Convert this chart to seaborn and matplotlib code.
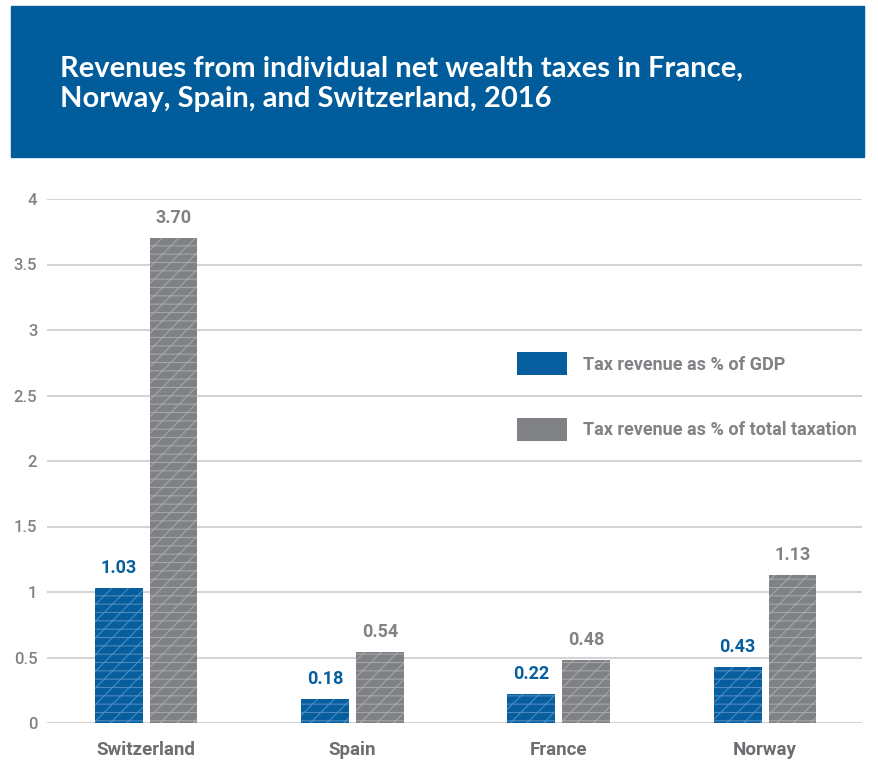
import pandas as pd
import numpy as np
import matplotlib.pyplot as plt
import seaborn as sns
from matplotlib.patches import Rectangle

countries = ['Switzerland', 'Spain', 'France', 'Norway']
gdp_share = [1.03, 0.18, 0.22, 0.43]
tax_share = [3.70, 0.54, 0.48, 1.13]
series = ['Tax revenue as % of GDP', 'Tax revenue as % of total taxation']
yticks = [0, 0.5, 1, 1.5, 2, 2.5, 3, 3.5, 4]
ytick_labels = ['0', '0.5', '1', '1.5', '2', '2.5', '3', '3.5', '4']

df = pd.DataFrame({
    'country': countries * 2,
    'measure': [series[0]] * 4 + [series[1]] * 4,
    'value': gdp_share + tax_share,
})

blue = '#075e9e'
grey = '#7f8184'
header_blue = '#005c9a'
text_grey = '#808285'

sns.set_style('white')
plt.rcParams['font.family'] = ['Roboto', 'DejaVu Sans']
plt.rcParams['hatch.linewidth'] = 0.8

fig = plt.figure(figsize=(8.79, 7.61), dpi=100)
ax = fig.add_axes([47 / 879, 38 / 761, 815 / 879, 524 / 761])

sns.barplot(data=df, x='country', y='value', hue='measure', order=countries,
            hue_order=series, palette=[blue, grey], saturation=1,
            width=0.532, gap=0.128, linewidth=0, ax=ax, zorder=3)

hatch_cols = ['#4a8ac0', '#a4a6a9']
for cont, hc in zip(ax.containers, hatch_cols):
    for p in cont:
        p.set_hatch('//--')
        p.set_edgecolor(hc)
        p.set_linewidth(0)

for cont, col in zip(ax.containers, [blue, text_grey]):
    ax.bar_label(cont, fmt='%.2f', padding=8, color=col, fontsize=13,
                 fontweight='bold')

ax.set_ylim(0, 4)
ax.set_xlim(-0.48, 3.47)
ax.set_yticks(yticks)
ax.set_yticklabels(ytick_labels)
ax.yaxis.grid(True, color='#d4d4d4', linewidth=1.5, zorder=0)
ax.set_axisbelow(True)
sns.despine(ax=ax, left=True, bottom=True)
ax.tick_params(axis='y', length=0, pad=7, labelsize=12, labelcolor=text_grey)
ax.tick_params(axis='x', length=0, pad=13, labelsize=13.5, labelcolor='#6d6e71')
for t in ax.get_yticklabels():
    t.set_fontweight('medium')
for t in ax.get_xticklabels():
    t.set_fontweight('bold')
ax.set_xlabel('')
ax.set_ylabel('')

leg = ax.legend(loc='upper left', bbox_to_anchor=(517 / 879, (761 - 352) / 761),
                bbox_transform=fig.transFigure, frameon=False, fontsize=13,
                handlelength=2.77, handleheight=1.6, labelspacing=2.35,
                handletextpad=0.9, borderaxespad=0, borderpad=0)
for t in leg.get_texts():
    t.set_color(text_grey)
    t.set_fontweight('bold')

# header box
fig.patches.append(Rectangle((11 / 879, (761 - 157) / 761), 853 / 879, 151 / 761,
                             transform=fig.transFigure, color=header_blue, zorder=0))
fig.text(60 / 879, (761 - 84) / 761,
         'Revenues from individual net wealth taxes in France,\nNorway, Spain, and Switzerland, 2016',
         color='white', fontsize=21, fontweight='bold', va='center',
         linespacing=1.2, family=['Lato', 'DejaVu Sans'])

fig.savefig('out.png', dpi=100)
